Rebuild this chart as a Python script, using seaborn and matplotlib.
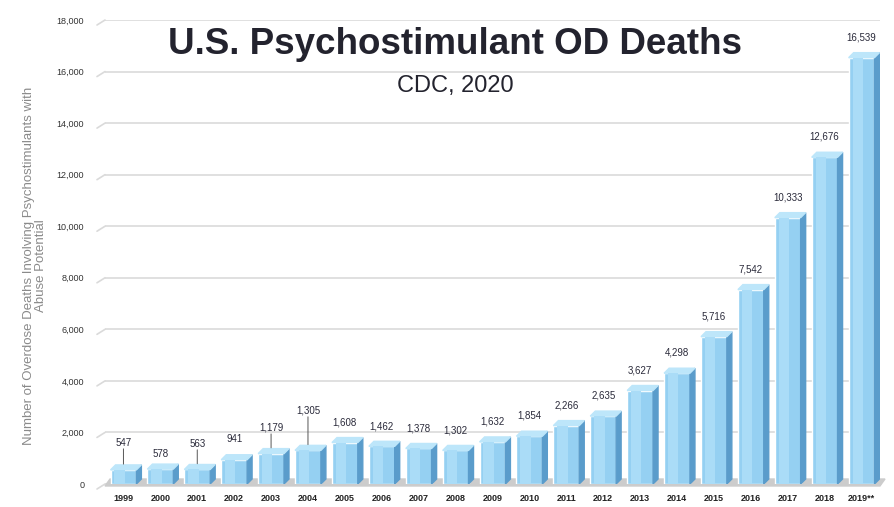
import matplotlib
matplotlib.use("Agg")
import matplotlib.pyplot as plt
import seaborn as sns
import pandas as pd
from matplotlib.patches import Polygon

# Data
years = ["1999", "2000", "2001", "2002", "2003", "2004", "2005", "2006", "2007", "2008",
         "2009", "2010", "2011", "2012", "2013", "2014", "2015", "2016", "2017", "2018", "2019**"]
deaths = [547, 578, 563, 941, 1179, 1305, 1608, 1462, 1378, 1302,
          1632, 1854, 2266, 2635, 3627, 4298, 5716, 7542, 10333, 12676, 16539]
y_ticks = list(range(0, 18001, 2000))

# label lift above the bar top (points); some labels sit higher with a leader line
default_lift = 11
label_lift = {0: 16, 1: 7, 2: 15, 4: 15, 5: 25}

df = pd.DataFrame({"year": years, "deaths": deaths})

sns.set_style("white")
plt.rcParams["font.family"] = ["Liberation Sans", "DejaVu Sans"]

fig = plt.figure(figsize=(8.94, 5.07), dpi=100)
ax = fig.add_axes([105 / 894, 23 / 507, 775 / 894, 464 / 507])

front = "#95d0f2"
side = "#5a9ccb"
top = "#bde6fa"

sns.barplot(data=df, x="year", y="deaths", color=front, width=0.7,
            saturation=1, ax=ax, zorder=3)

ax.set_ylim(0, 18000)
ax.set_xlim(-0.5, len(years) - 0.5)

# pixel -> data conversions for the fake 3D depth
px_y = 18000 / 464
px_x = len(years) / 775
dx, dy = 5 * px_x, 5 * px_y

# floor strip
ax.add_patch(Polygon([(-0.5, -2 * px_y), (len(years) - 0.5, -2 * px_y),
                      (len(years) - 0.5 + dx, dy), (-0.5 + dx, dy)],
                     closed=True, color="#cccccc", zorder=2, clip_on=False))

for i, bar in enumerate(ax.patches):
    if i >= len(years):
        continue
    x0 = bar.get_x()
    x1 = x0 + bar.get_width()
    h = bar.get_height()
    ax.add_patch(Polygon([(x1, 0), (x1 + dx, dy), (x1 + dx, h + dy), (x1, h)],
                         closed=True, color=side, zorder=3))
    ax.add_patch(Polygon([(x0, h), (x1, h), (x1 + dx, h + dy), (x0 + dx, h + dy)],
                         closed=True, color=top, zorder=3))
    # soft highlight on the front face
    ax.add_patch(Polygon([(x0 + 0.15 * (x1 - x0), 0), (x0 + 0.55 * (x1 - x0), 0),
                          (x0 + 0.55 * (x1 - x0), h), (x0 + 0.15 * (x1 - x0), h)],
                         closed=True, color="#aadcf7", zorder=3, lw=0))

for i, v in enumerate(deaths):
    lift = label_lift.get(i, default_lift)
    ax.annotate(f"{v:,}", xy=(i, v), xytext=(0, lift), textcoords="offset points",
                ha="center", va="bottom", fontsize=7, color="#2a2a3a", zorder=5)
    if lift > 12:
        ax.annotate("", xy=(i, v + dy * 0.6), xytext=(0, lift - 1),
                    textcoords="offset points",
                    arrowprops=dict(arrowstyle="-", color="#555555", lw=0.7), zorder=5)

# gridlines with a small slanted lead-in like the 3D original
for t in y_ticks:
    ax.axhline(t, color="#dadada", lw=1.2, zorder=1)
    ax.plot([-0.5 - 8 * px_x, -0.5], [t - dy, t], color="#dadada", lw=1.2,
            zorder=1, clip_on=False)

ax.set_yticks(y_ticks)
ax.set_yticklabels([f"{t:,}" for t in y_ticks], fontsize=6.5, color="#333333")
ax.tick_params(axis="y", length=0, pad=15)
ax.tick_params(axis="x", length=0, pad=7)
for lbl in ax.get_xticklabels():
    lbl.set_fontsize(6.5)
    lbl.set_fontweight("bold")
    lbl.set_color("#222222")

ax.set_xlabel("")
ax.set_ylabel("Number of Overdose Deaths Involving Psychostimulants with\nAbuse Potential",
              fontsize=9.5, color="#8a8a8a", linespacing=1.0)
ax.yaxis.set_label_coords(-0.075, 0.47)
sns.despine(ax=ax, left=True, bottom=True)

fig.text(455 / 894, 1 - 45 / 507, "U.S. Psychostimulant OD Deaths", ha="center", va="center",
         fontsize=26.5, fontweight="bold", color="#23232e")
fig.text(455 / 894, 1 - 86 / 507, "CDC, 2020", ha="center", va="center",
         fontsize=17, color="#23232e")

fig.savefig("out.png", dpi=100)
